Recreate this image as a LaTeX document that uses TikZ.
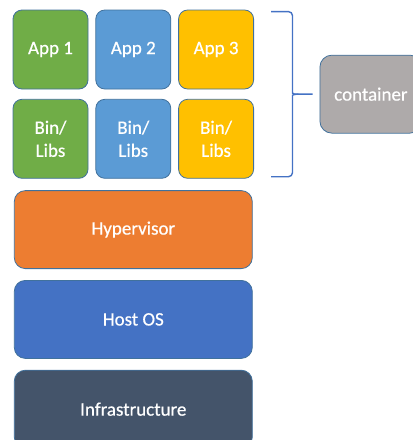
\documentclass[tikz,border=0pt]{standalone}
\usepackage{fontspec}
\setmainfont{Carlito}
\newfontfamily\tilefont[FakeBold=0.5]{Carlito}
\definecolor{AppGreen}{RGB}{112, 173, 71}
\definecolor{AppBlue}{RGB}{91, 155, 213}
\definecolor{AppGold}{RGB}{255, 192, 0}
\definecolor{HyperOrange}{RGB}{237, 125, 49}
\definecolor{HostBlue}{RGB}{68, 114, 196}
\definecolor{InfraSlate}{RGB}{68, 84, 106}
\definecolor{ContGrey}{RGB}{174, 170, 170}
\definecolor{EdgeBlue}{RGB}{65, 113, 156}
\usetikzlibrary{calc,positioning}

\begin{document}
\begin{tikzpicture}[
    x=1pt, y=-1pt,
    tile/.style={draw=EdgeBlue, line width=0.8pt, rounded corners=9pt, text=white,
                 font=\tilefont\fontsize{19}{23}\selectfont, align=center, inner sep=0pt,
                 minimum width=75pt, minimum height=79pt},
    layer/.style={tile, rounded corners=11pt, minimum width=238pt, minimum height=78pt},
    brace/.style={draw=HostBlue, line width=1.4pt, rounded corners=4pt}
]
    \useasboundingbox (0,0) rectangle (413,440);
    \clip (0,0) rectangle (413,440);

    % apps and their libraries
    \node[tile, fill=AppGreen] (app1) at (50.5,49.5) {App 1};
    \node[tile, fill=AppBlue, right=7pt of app1] (app2) {App 2};
    \node[tile, fill=AppGold, right=7pt of app2] (app3) {App 3};
    \node[tile, fill=AppGreen, below=9.5pt of app1] (bin1) {Bin/\\Libs};
    \node[tile, fill=AppBlue, below=9.5pt of app2] (bin2) {Bin/\\Libs};
    \node[tile, fill=AppGold, below=9.5pt of app3] (bin3) {Bin/\\Libs};

    % stack underneath
    \node[layer, fill=HyperOrange, below=11.5pt of bin2] (hyper) {Hypervisor};
    \node[layer, fill=HostBlue, below=11pt of hyper] (host) {Host OS};
    \node[layer, fill=InfraSlate, below=11pt of host] (infra) {Infrastructure};

    % brace round the app column
    \coordinate (tip) at ($(app3.east)!.5!(bin3.east)+(58.5,0)$);
    \coordinate (spine) at ($(tip)+(-20,0)$);
    \coordinate (armtop) at ($(app3.north east)+(17,2)$);
    \coordinate (armbot) at ($(bin3.south east)+(17,-2)$);
    \draw[brace] (armtop) -| ($(spine)+(0,-5)$)
        .. controls ($(spine)+(0,-1)$) and ($(spine)+(2,0)$) .. ($(spine)+(6,0)$) -- (tip);
    \draw[brace] (armbot) -| ($(spine)+(0,5)$)
        .. controls ($(spine)+(0,1)$) and ($(spine)+(2,0)$) .. ($(spine)+(6,0)$);

    \node[tile, fill=ContGrey, rounded corners=12pt, minimum width=102pt, minimum height=78pt,
          right=7pt of tip] (cont) {container};
\end{tikzpicture}
\end{document}
